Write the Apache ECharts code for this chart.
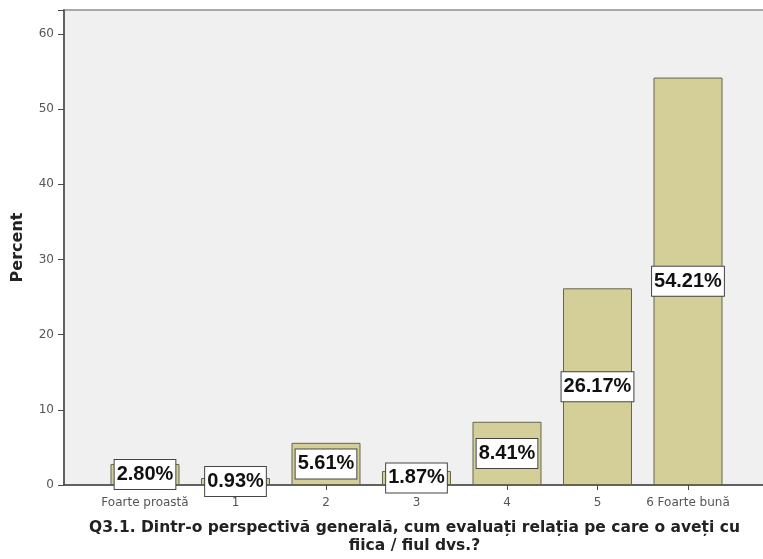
<!DOCTYPE html>
<html>
<head>
<meta charset="utf-8">
<script src="https://cdn.jsdelivr.net/npm/echarts@6/dist/echarts.min.js"></script>
<style>
  html, body { margin: 0; padding: 0; background: #ffffff; }
  #chart { width: 763px; height: 559px; }
</style>
</head>
<body>
<div id="chart"></div>
<script>
// Rating categories along the horizontal axis
const categories = ['Foarte proastă', '1', '2', '3', '4', '5', '6 Foarte bună'];
// Share of respondents per rating, in percent
const percents = [2.80, 0.93, 5.61, 1.87, 8.41, 26.17, 54.21];
// Positions of the category ticks on the numeric x axis
const tickPositions = [0, 1, 2, 3, 4, 5, 6];
// Vertical axis ticks
const yTicks = [0, 10, 20, 30, 40, 50, 60];

const chart = echarts.init(document.getElementById('chart'));

chart.setOption({
  animation: false,
  grid: {
    left: 64, right: -2, top: 10, bottom: 74,
    outerBoundsMode: 'none',
    containLabel: false,
    show: true,
    backgroundColor: '#f0f0f0',
    borderColor: '#a8a8a8',
    borderWidth: 2
  },
  xAxis: {
    type: 'value',
    min: -0.895,
    max: 6.851,
    splitLine: { show: false },
    axisLine: { show: true, lineStyle: { color: '#4a4a4a', width: 1.5 } },
    axisTick: {
      show: true, length: 5,
      customValues: tickPositions,
      lineStyle: { color: '#4a4a4a' }
    },
    axisLabel: {
      customValues: tickPositions,
      formatter: v => categories[Math.round(v)],
      color: '#555555',
      fontFamily: 'DejaVu Sans, sans-serif',
      fontSize: 12,
      margin: 12
    },
    name: 'Q3.1. Dintr-o perspectivă generală, cum evaluați relația pe care o aveți cu\nfiica / fiul dvs.?',
    nameLocation: 'middle',
    nameGap: 34,
    nameTextStyle: {
      color: '#222222',
      fontFamily: 'DejaVu Sans, sans-serif',
      fontWeight: 'bold',
      fontSize: 15.5,
      lineHeight: 18,
      align: 'center',
      verticalAlign: 'top'
    }
  },
  yAxis: {
    type: 'value',
    min: 0,
    max: 63.2,
    interval: 10,
    splitLine: { show: false },
    axisLine: { show: true, onZero: false, lineStyle: { color: '#4a4a4a', width: 1.5 } },
    axisTick: { show: true, length: 6, lineStyle: { color: '#4a4a4a' } },
    axisLabel: {
      formatter: v => (yTicks.includes(v) ? String(v) : ''),
      color: '#555555',
      fontFamily: 'DejaVu Sans, sans-serif',
      fontSize: 12,
      margin: 10
    },
    name: 'Percent',
    nameLocation: 'middle',
    nameRotate: 90,
    nameGap: 38,
    nameTextStyle: {
      color: '#222222',
      fontFamily: 'DejaVu Sans, sans-serif',
      fontWeight: 'bold',
      fontSize: 16
    }
  },
  series: [{
    type: 'bar',
    data: percents.map((v, i) => [tickPositions[i], v]),
    barWidth: 69,
    itemStyle: {
      color: '#d4cf98',
      borderColor: '#66664f',
      borderWidth: 1
    },
    label: {
      show: true,
      position: 'inside',
      formatter: p => p.value[1].toFixed(2) + '%',
      color: '#111111',
      fontFamily: 'Arial, Liberation Sans, sans-serif',
      fontWeight: 'bold',
      fontSize: 20,
      backgroundColor: '#ffffff',
      borderColor: '#444444',
      borderWidth: 1,
      padding: [5, 2, 4, 2]
    }
  }]
});
</script>
</body>
</html>
